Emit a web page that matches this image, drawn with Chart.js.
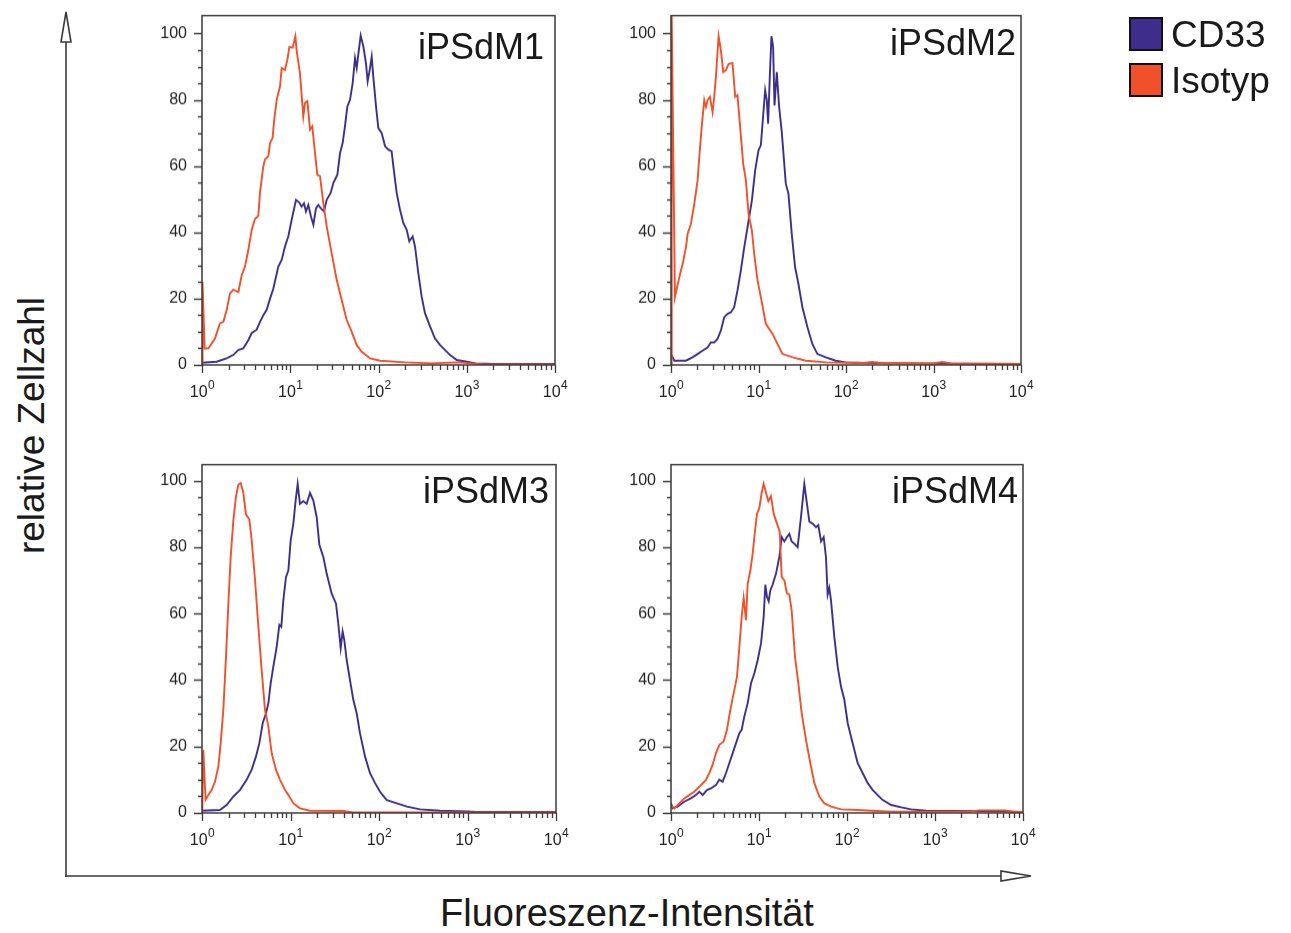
<!DOCTYPE html>
<html>
<head>
<meta charset="utf-8">
<script src="https://cdn.jsdelivr.net/npm/chart.js@4/dist/chart.umd.min.js"></script>
<style>
  html, body { margin:0; padding:0; background:#fff; }
  #root { position:relative; width:1291px; height:933px; overflow:hidden; font-family:"Liberation Sans", Arial, sans-serif; color:#1a1a1a; }
  .cv { position:absolute; }
  .ptitle { position:absolute; font-size:36px; line-height:36px; white-space:nowrap; text-align:right; color:#1a1a1a; }
  .legtxt { position:absolute; font-size:37px; line-height:37px; white-space:nowrap; color:#1a1a1a; }
  .sw { position:absolute; width:30px; height:30px; border:2px solid #111; }
  #ytitle { position:absolute; font-size:37px; line-height:37px; white-space:nowrap; text-align:center; width:400px; transform:rotate(-90deg); }
  #xtitle { position:absolute; font-size:38px; line-height:38px; white-space:nowrap; text-align:center; width:600px; }
</style>
</head>
<body>
<div id="root">
  <svg width="1291" height="933" style="position:absolute;left:0;top:0">
    <line x1="66" y1="877" x2="66" y2="42" stroke="#3a3a3a" stroke-width="1.6"/>
    <polygon points="66,12 61,42 71,42" fill="#fff" stroke="#3a3a3a" stroke-width="1.6"/>
    <line x1="65" y1="876" x2="1001" y2="876" stroke="#3a3a3a" stroke-width="1.6"/>
    <polygon points="1031,876 1001,871 1001,881" fill="#fff" stroke="#3a3a3a" stroke-width="1.6"/>
  </svg>
</div>
<script>
// ---------- DATA ----------
const seriesNames = ['CD33', 'Isotyp'];
const panelTitles = ['iPSdM1', 'iPSdM2', 'iPSdM3', 'iPSdM4'];
const xTickValues = [0, 1, 2, 3, 4];               // log10 of intensity
const xTickBase = '10';
const xTickExponents = ['0', '1', '2', '3', '4'];
const yTickValues = [0, 20, 40, 60, 80, 100];
const axisTitleY = 'relative Zellzahl';
const axisTitleX = 'Fluoreszenz-Intensität';

// Panel 1 (iPSdM1)  x = log10 intensity, y = relative cell count
const p1IsoX = [0,0.006,0.03,0.072,0.147,0.204,0.242,0.28,0.317,0.355,0.412,0.449,0.487,0.525,0.563,0.6,0.638,0.657,0.695,0.714,0.752,0.771,0.8,0.816,0.846,0.884,0.903,0.94,0.967,0.99,1.027,1.058,1.073,1.11,1.148,1.167,1.194,1.224,1.25,1.28,1.307,1.337,1.375,1.413,1.469,1.526,1.583,1.639,1.696,1.753,1.809,1.904,2.017,2.3,2.6,2.9,3.05,3.2,4];
const p1IsoY = [0,25,5,5,8,12.6,13,16.6,21.6,22.7,22,27,29.7,34.7,40.8,44,45,52,60,62,63,67,68.5,73.5,80,84,89.6,89,92,96,95.7,99.2,94.7,88,75,79,79.6,71,72,64,57.4,57,48.8,41.8,33.7,25.7,19.6,13.6,10,6,4,2,1.3,0.8,0.5,0.8,0.5,0.2,0.2];
const p1CdX = [0,0.166,0.28,0.355,0.412,0.468,0.525,0.563,0.619,0.657,0.695,0.733,0.771,0.808,0.865,0.903,0.94,0.978,1.016,1.065,1.103,1.129,1.156,1.178,1.205,1.235,1.262,1.292,1.318,1.345,1.382,1.413,1.458,1.488,1.534,1.564,1.594,1.62,1.647,1.677,1.707,1.734,1.753,1.771,1.798,1.828,1.858,1.877,1.904,1.923,1.941,1.972,1.998,2.036,2.074,2.111,2.149,2.168,2.206,2.244,2.281,2.319,2.349,2.387,2.414,2.451,2.489,2.527,2.584,2.64,2.697,2.754,2.81,2.886,2.999,3.1,3.3,4];
const p1CdY = [0.7,1,2,3,4.5,5,7.5,9.6,10.6,13,15,16.6,20,23,29.7,31.7,35.7,38.8,43.8,49.8,49,47.8,48.8,46.3,48.3,44.8,42.3,47.3,48.3,47.3,46.3,49.8,51.9,54.9,57.4,63.9,67,72,78,80,85,92.6,89.6,93.7,99.4,96.2,91,85.6,89.6,93,87,78,71.5,70,66,65,64.5,60,51.9,46.8,42.8,40.8,37.3,38.8,35.7,27.7,20.6,15.6,11.6,8,6,4.5,3,1.5,1,0.5,0.3,0.3];

// Panel 2 (iPSdM2)
const p2IsoX = [0,0.008,0.045,0.095,0.133,0.171,0.19,0.228,0.266,0.304,0.323,0.354,0.38,0.399,0.418,0.445,0.475,0.494,0.513,0.544,0.57,0.597,0.627,0.658,0.703,0.734,0.76,0.787,0.825,0.856,0.886,0.924,0.951,0.989,1.027,1.084,1.16,1.217,1.274,1.388,1.54,1.768,2.2,2.3,2.4,3.0,3.1,3.2,4];
const p2IsoY = [0,106,20.5,26.5,30.5,35.5,39.6,42.6,48.6,55.7,62.7,72.8,79.9,77.9,79.9,80.9,76.3,80.9,86.9,99.2,95,88.4,88.9,90.8,91.1,80.9,81.4,72.8,60.7,55.7,45.6,40.6,33.5,25.5,20.4,12.4,9.4,6.3,3.3,2.3,1.3,0.8,0.6,0.9,0.6,0.5,0.9,0.5,0.3];
const p2CdX = [0,0.038,0.171,0.247,0.304,0.361,0.418,0.456,0.494,0.532,0.57,0.608,0.646,0.684,0.722,0.76,0.798,0.837,0.875,0.924,0.962,1.0,1.027,1.046,1.076,1.095,1.11,1.129,1.148,1.167,1.183,1.209,1.236,1.266,1.312,1.342,1.38,1.418,1.456,1.502,1.559,1.616,1.673,1.768,1.882,1.996,2.5,4];
const p2CdY = [3.3,1.3,1.3,2.3,3.3,4.3,5.3,6.8,6.8,7.9,10.4,14.4,15.4,15.9,17.4,22.5,28.5,35.5,41.6,49.6,58.7,64.8,66.3,72.8,82.9,79.9,72.8,86.9,99.2,96,78.3,88.4,77.8,70.3,54.7,51.7,39.6,29.5,24.5,17.4,11.4,6.3,3.3,2.3,1.3,0.8,0.5,0.3];

// Panel 3 (iPSdM3)
const p3IsoX = [0.003,0.015,0.04,0.072,0.109,0.147,0.185,0.211,0.241,0.271,0.298,0.324,0.354,0.384,0.411,0.437,0.467,0.497,0.535,0.561,0.599,0.637,0.674,0.712,0.75,0.787,0.836,0.881,0.938,0.976,1.032,1.107,1.22,1.6,1.7,4];
const p3IsoY = [0,19,4,5.4,6.9,9.4,14,21,31,47,63,77,88,95.3,98.8,99.3,96.3,89.8,88.3,82.2,70.2,56,43,31,26,18,13,10,6.9,5.4,2.9,1.4,0.7,0.6,0.2,0.2];
const p3CdX = [0,0.203,0.279,0.354,0.429,0.505,0.561,0.61,0.648,0.686,0.723,0.75,0.776,0.806,0.844,0.874,0.896,0.919,0.949,0.976,1.002,1.032,1.058,1.081,1.107,1.145,1.183,1.22,1.258,1.296,1.326,1.371,1.409,1.465,1.514,1.54,1.567,1.589,1.608,1.635,1.672,1.71,1.748,1.785,1.842,1.898,1.955,2.011,2.087,2.2,2.313,2.463,2.689,3.0,3.1,4];
const p3CdY = [0.7,0.9,2.4,4.9,6.9,10,13,17,21,27,30,33,39,44,50,56.6,56,64,71,73,82,87,94,99,93,93.8,93,96.3,94,89,80.7,77,72,66,63,57,49.6,54.6,52,46,40,34,30,24,17,12,9,6.4,3.9,2.9,1.9,1.1,0.7,0.5,0.3,0.3];

// Panel 4 (iPSdM4)
const p4IsoX = [0,0.038,0.095,0.152,0.208,0.265,0.303,0.36,0.398,0.436,0.473,0.511,0.549,0.598,0.636,0.674,0.712,0.75,0.777,0.803,0.826,0.852,0.871,0.902,0.928,0.955,0.977,1.004,1.03,1.053,1.08,1.106,1.136,1.167,1.205,1.235,1.258,1.288,1.318,1.345,1.371,1.409,1.447,1.485,1.534,1.583,1.629,1.686,1.742,1.818,1.932,2.121,2.273,2.5,3.4,3.5,3.8,3.9,4];
const p4IsoY = [2.4,1.4,2.9,4.4,5.4,6.4,7.4,8.9,10,12,14.5,18,20.5,21.5,25,31,36,41,50,59,64.7,58,69,73,78,85,90,91.8,96.3,99,96.3,93.8,95.3,90,87,84.7,71,70,66,65.7,61,47,39,30,22,15,9,4.9,2.9,1.9,1.1,0.9,0.7,0.4,0.4,0.8,0.8,0.3,0.3];
const p4CdX = [0,0.019,0.076,0.152,0.227,0.284,0.322,0.36,0.409,0.455,0.511,0.549,0.587,0.625,0.663,0.701,0.739,0.777,0.803,0.833,0.871,0.909,0.947,0.985,1.023,1.053,1.072,1.091,1.11,1.129,1.155,1.193,1.231,1.258,1.288,1.318,1.345,1.371,1.402,1.439,1.477,1.515,1.545,1.572,1.61,1.648,1.674,1.705,1.735,1.761,1.78,1.799,1.818,1.856,1.894,1.932,1.97,2.008,2.045,2.083,2.121,2.178,2.235,2.292,2.348,2.405,2.5,2.614,2.727,2.9,3.8,4];
const p4CdY = [2.9,1.4,1.9,3.4,4.4,5.4,6.4,5.4,6.9,7.4,8.4,10,9.4,12,15,18,21,24,25,29,33,39,42,46,51,59,68.7,65,63.7,67,68.7,72,77,83,81.7,83,84,81.7,81,80,89,99,93,87.7,87,86,86.6,81.7,83,77,65.7,67.7,64,53,44,38,34,27,23,19,15,12,9,6.9,5.4,3.9,2.4,1.7,1.1,0.7,0.5,0.3];

// ---------- LAYOUT / STYLE ----------
const COL_CD = '#3f2d8c';
const COL_ISO = '#f0502a';
const AXC = '#3a3a3a';
const TXC = '#222222';
const FONT = '"Liberation Sans", Arial, sans-serif';
const PADL = 52, PADT = 12, PADR = 24, PADB = 46;

const panels = [
  { title: panelTitles[0], box: [202, 16, 555, 365], ymax: 105.4, iso: [p1IsoX, p1IsoY], cd: [p1CdX, p1CdY], tRight: 11, tBase: 43 },
  { title: panelTitles[1], box: [671, 16, 1021, 365], ymax: 105.4, iso: [p2IsoX, p2IsoY], cd: [p2CdX, p2CdY], tRight: 5, tBase: 39 },
  { title: panelTitles[2], box: [202, 465, 556, 813], ymax: 104.8, iso: [p3IsoX, p3IsoY], cd: [p3CdX, p3CdY], tRight: 7, tBase: 38 },
  { title: panelTitles[3], box: [671, 465, 1023, 813], ymax: 104.8, iso: [p4IsoX, p4IsoY], cd: [p4CdX, p4CdY], tRight: 5, tBase: 38 }
];

const toPts = (xs, ys) => xs.map((x, i) => ({ x: x, y: ys[i] }));

const frameTicks = {
  id: 'frameTicks',
  afterDatasetsDraw(chart) {
    const { ctx, chartArea: a, scales } = chart;
    const xs = scales.x, ys = scales.y;
    ctx.save();
    ctx.strokeStyle = AXC;
    ctx.lineWidth = 1.5;
    ctx.strokeRect(a.left, a.top, a.right - a.left, a.bottom - a.top);
    ctx.lineWidth = 1.3;
    ctx.beginPath();
    for (let d = 0; d <= 4; d++) {
      const px = Math.round(xs.getPixelForValue(d)) + 0.5;
      ctx.moveTo(px, a.bottom); ctx.lineTo(px, a.bottom + 8);
      if (d < 4) {
        for (let k = 2; k <= 9; k++) {
          const q = Math.round(xs.getPixelForValue(d + Math.log10(k))) + 0.5;
          ctx.moveTo(q, a.bottom); ctx.lineTo(q, a.bottom + 5);
        }
      }
    }
    for (let v = 0; v <= 100; v += 5) {
      const py = Math.round(ys.getPixelForValue(v)) + 0.5;
      const len = (v % 20 === 0) ? 8 : 4;
      ctx.moveTo(a.left, py); ctx.lineTo(a.left - len, py);
    }
    ctx.stroke();
    // x tick labels: base "10" with raised exponent
    ctx.fillStyle = TXC;
    ctx.textBaseline = 'alphabetic';
    xTickValues.forEach((v, i) => {
      const px = xs.getPixelForValue(v);
      ctx.font = '16px ' + FONT;
      const w1 = ctx.measureText(xTickBase).width;
      ctx.font = '12px ' + FONT;
      const w2 = ctx.measureText(xTickExponents[i]).width;
      const x0 = px - (w1 + w2) / 2;
      ctx.font = '16px ' + FONT;
      ctx.textAlign = 'left';
      ctx.fillText(xTickBase, x0, a.bottom + 32);
      ctx.font = '12px ' + FONT;
      ctx.fillText(xTickExponents[i], x0 + w1 + 0.5, a.bottom + 24);
    });
    ctx.restore();
  }
};

const root = document.getElementById('root');

function makeChart(canvas, p) {
  return new Chart(canvas.getContext('2d'), {
    type: 'line',
    data: {
      datasets: [
        { label: seriesNames[1], data: toPts(p.iso[0], p.iso[1]), borderColor: COL_ISO, borderWidth: 1.9, pointRadius: 0, tension: 0, fill: false },
        { label: seriesNames[0], data: toPts(p.cd[0], p.cd[1]), borderColor: COL_CD, borderWidth: 1.9, pointRadius: 0, tension: 0, fill: false }
      ]
    },
    options: {
      responsive: false,
      animation: false,
      devicePixelRatio: 1,
      layout: { padding: { left: 0, top: PADT, right: PADR, bottom: 0 } },
      plugins: { legend: { display: false }, tooltip: { enabled: false }, title: { display: false } },
      scales: {
        x: {
          type: 'linear', min: 0, max: 4,
          border: { display: false },
          grid: { display: false, drawTicks: false },
          afterBuildTicks: (s) => { s.ticks = xTickValues.map(v => ({ value: v })); },
          afterFit: (s) => { s.height = PADB; },
          ticks: { display: false }
        },
        y: {
          type: 'linear', min: 0, max: p.ymax,
          border: { display: false },
          grid: { display: false, drawTicks: false },
          afterBuildTicks: (s) => { s.ticks = yTickValues.map(v => ({ value: v })); },
          afterFit: (s) => { s.width = PADL; },
          ticks: {
            padding: 15, color: TXC, autoSkip: false,
            font: { family: FONT, size: 16 },
            callback: (v) => String(v)
          }
        }
      }
    },
    plugins: [frameTicks]
  });
}

panels.forEach((p) => {
  const [L, T, R, B] = p.box;
  let W = (R - L) + PADL + PADR;
  let H = (B - T) + PADT + PADB;
  const c = document.createElement('canvas');
  c.className = 'cv';
  c.width = W; c.height = H;
  root.appendChild(c);
  let ch = makeChart(c, p);
  let a = ch.chartArea;
  const offL = a.left, offT = a.top, offR = W - a.right, offB = H - a.bottom;
  ch.destroy();
  W = (R - L) + offL + offR;
  H = (B - T) + offT + offB;
  c.width = W; c.height = H;
  c.style.width = W + 'px';
  c.style.height = H + 'px';
  ch = makeChart(c, p);
  a = ch.chartArea;
  c.style.left = (L - a.left) + 'px';
  c.style.top = (T - a.top) + 'px';

  const t = document.createElement('div');
  t.className = 'ptitle';
  t.textContent = p.title;
  t.style.right = (1291 - (R - p.tRight)) + 'px';
  t.style.top = (T + p.tBase - 30.5) + 'px';
  root.appendChild(t);
});

// legend
const leg = [[seriesNames[0], COL_CD, 17], [seriesNames[1], COL_ISO, 63]];
leg.forEach(([name, col, y]) => {
  const s = document.createElement('div');
  s.className = 'sw';
  s.style.left = '1129px'; s.style.top = y + 'px';
  s.style.background = col;
  root.appendChild(s);
  const tx = document.createElement('div');
  tx.className = 'legtxt';
  tx.textContent = name;
  tx.style.left = '1171px';
  tx.style.top = (y + 30 - 31.3) + 'px';
  root.appendChild(tx);
});

// axis titles
const yt = document.createElement('div');
yt.id = 'ytitle';
yt.textContent = axisTitleY;
yt.style.left = (31 - 200) + 'px';
yt.style.top = (425 - 18.5) + 'px';
root.appendChild(yt);

const xt = document.createElement('div');
xt.id = 'xtitle';
xt.textContent = axisTitleX;
xt.style.left = (627 - 300) + 'px';
xt.style.top = (926 - 32.2) + 'px';
root.appendChild(xt);
</script>
</body>
</html>
